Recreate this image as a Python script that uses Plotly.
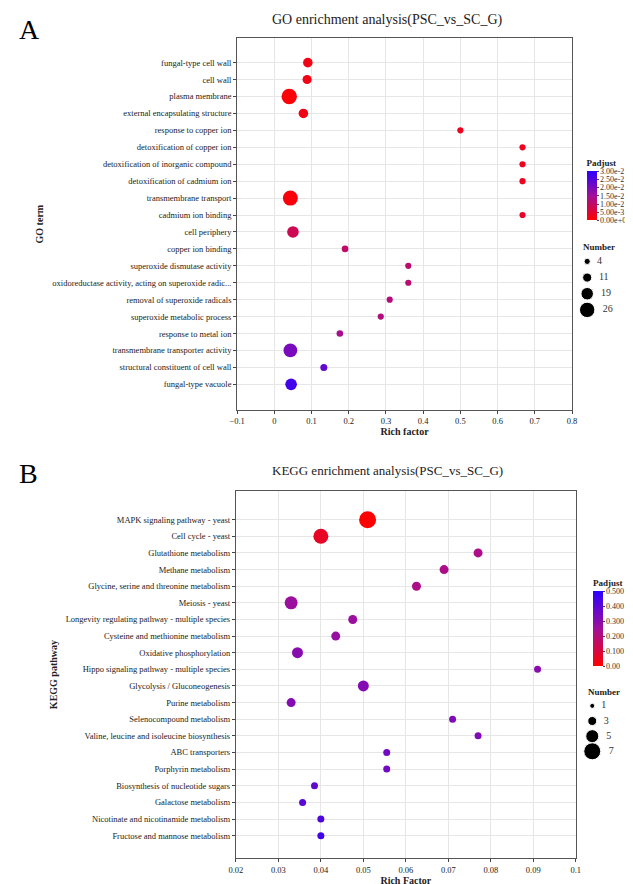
import plotly.graph_objects as go

# ---- GO enrichment data (panel A) ----
go_terms = [
    "fungal-type cell wall", "cell wall", "plasma membrane", "external encapsulating structure",
    "response to copper ion", "detoxification of copper ion", "detoxification of inorganic compound",
    "detoxification of cadmium ion", "transmembrane transport", "cadmium ion binding",
    "cell periphery", "copper ion binding", "superoxide dismutase activity",
    "oxidoreductase activity, acting on superoxide radic...", "removal of superoxide radicals",
    "superoxide metabolic process", "response to metal ion", "transmembrane transporter activity",
    "structural constituent of cell wall", "fungal-type vacuole",
]
go_rich = [0.090, 0.088, 0.040, 0.078, 0.500, 0.667, 0.667, 0.667, 0.043, 0.667,
           0.050, 0.190, 0.360, 0.360, 0.310, 0.286, 0.176, 0.043, 0.133, 0.045]
go_padj = [0.002, 0.002, 0.0005, 0.002, 0.003, 0.003, 0.003, 0.003, 0.001, 0.004,
           0.008, 0.010, 0.011, 0.011, 0.012, 0.012, 0.014, 0.020, 0.023, 0.027]
go_num = [12, 11, 26, 12, 4, 4, 4, 4, 25, 4, 17, 5, 4, 4, 4, 4, 5, 22, 6, 17]

# ---- KEGG enrichment data (panel B) ----
kegg_terms = [
    "MAPK signaling pathway - yeast", "Cell cycle - yeast", "Glutathione metabolism",
    "Methane metabolism", "Glycine, serine and threonine metabolism", "Meiosis - yeast",
    "Longevity regulating pathway - multiple species", "Cysteine and methionine metabolism",
    "Oxidative phosphorylation", "Hippo signaling pathway - multiple species",
    "Glycolysis / Gluconeogenesis", "Purine metabolism", "Selenocompound metabolism",
    "Valine, leucine and isoleucine biosynthesis", "ABC transporters", "Porphyrin metabolism",
    "Biosynthesis of nucleotide sugars", "Galactose metabolism",
    "Nicotinate and nicotinamide metabolism", "Fructose and mannose metabolism",
]
kegg_rich = [0.051, 0.040, 0.077, 0.069, 0.0625, 0.033, 0.0475, 0.0435, 0.0345, 0.091,
             0.050, 0.033, 0.071, 0.077, 0.0555, 0.0555, 0.0385, 0.0357, 0.040, 0.040]
kegg_padj = [0.0, 0.06, 0.22, 0.22, 0.22, 0.26, 0.26, 0.27, 0.30, 0.30,
             0.31, 0.31, 0.32, 0.32, 0.35, 0.35, 0.38, 0.40, 0.42, 0.45]
kegg_num = [7, 6, 3, 3, 3, 5, 3, 3, 4, 2, 4, 3, 2, 2, 2, 2, 2, 2, 2, 2]

go_legend_n = [4, 11, 19, 26]
kegg_legend_n = [1, 3, 5, 7]

FONT = "Liberation Serif"
scale = [[0, "#ff0000"], [0.5, "#a0109a"], [1, "#2a00ff"]]


def go_size(n):
    return 4.5 + 0.42 * n


def kegg_size(n):
    return 3 + 2 * n


fig = go.Figure()

fig.add_trace(go.Scatter(
    x=go_rich, y=go_terms, mode="markers", xaxis="x", yaxis="y",
    marker=dict(size=[go_size(n) for n in go_num], color=go_padj, coloraxis="coloraxis",
                line=dict(width=0), opacity=1),
    showlegend=False))
fig.add_trace(go.Scatter(
    x=kegg_rich, y=kegg_terms, mode="markers", xaxis="x2", yaxis="y2",
    marker=dict(size=[kegg_size(n) for n in kegg_num], color=kegg_padj, coloraxis="coloraxis2",
                line=dict(width=0), opacity=1),
    showlegend=False))

# size legends on hidden little axes
fig.add_trace(go.Scatter(
    x=[3.5] * 4, y=list(range(4)), mode="markers+text", xaxis="x3", yaxis="y3",
    text=["  " + str(n) for n in go_legend_n], textposition="middle right", cliponaxis=False,
    textfont=dict(family=FONT, size=10, color="#333"),
    marker=dict(size=[go_size(n) for n in go_legend_n], color="black", opacity=1),
    showlegend=False, hoverinfo="skip"))
fig.add_trace(go.Scatter(
    x=[3.5] * 4, y=list(range(4)), mode="markers+text", xaxis="x4", yaxis="y4",
    text=["  " + str(n) for n in kegg_legend_n], textposition="middle right", cliponaxis=False,
    textfont=dict(family=FONT, size=10, color="#333"),
    marker=dict(size=[kegg_size(n) for n in kegg_legend_n], color="black", opacity=1),
    showlegend=False, hoverinfo="skip"))

axis_common = dict(showline=True, linecolor="#555", linewidth=1, mirror=True, automargin=False,
                   showgrid=True, gridcolor="#e6e6e6", ticks="outside", ticklen=3,
                   tickfont=dict(family=FONT, size=8.5, color="#222"), zeroline=False)
hidden = dict(visible=False, showgrid=False, zeroline=False, automargin=False)

fig.update_layout(
    width=633, height=884, margin=dict(l=0, r=0, t=0, b=0),
    plot_bgcolor="rgba(0,0,0,0)", paper_bgcolor="white",
    font=dict(family=FONT, color="#222"),
    xaxis=dict(domain=[0.362, 0.891], range=[-0.1, 0.8], dtick=0.1, anchor="y",
               title=dict(text="<b>Rich factor</b>", font=dict(family=FONT, size=10), standoff=2),
               **axis_common),
    yaxis=dict(domain=[0.545, 0.966], autorange="reversed", anchor="x",
               title=dict(text="<b>GO term</b>", font=dict(family=FONT, size=10), standoff=6),
               **axis_common),
    xaxis2=dict(domain=[0.36, 0.897], range=[0.02, 0.1], dtick=0.01, anchor="y2",
                title=dict(text="<b>Rich Factor</b>", font=dict(family=FONT, size=10), standoff=2),
                **axis_common),
    yaxis2=dict(domain=[0.038, 0.454], autorange="reversed", anchor="x2",
                title=dict(text="<b>KEGG pathway</b>", font=dict(family=FONT, size=10), standoff=6),
                **axis_common),
    xaxis3=dict(domain=[0.88, 0.98], range=[0, 10], anchor="y3", **hidden),
    yaxis3=dict(domain=[0.653, 0.717], range=[3.3, -0.2], anchor="x3", **hidden),
    xaxis4=dict(domain=[0.888, 0.988], range=[0, 10], anchor="y4", **hidden),
    yaxis4=dict(domain=[0.154, 0.214], range=[3.3, -0.2], anchor="x4", **hidden),
    coloraxis=dict(colorscale=scale, cmin=0, cmax=0.03,
                   colorbar=dict(x=0.914, xanchor="left", xpad=0, y=0.796, yanchor="middle",
                                 len=64, lenmode="pixels", ypad=0, thickness=10, outlinewidth=0,
                                 title=dict(text="<b>Padjust</b>", font=dict(family=FONT, size=9)),
                                 tickvals=[0, 0.005, 0.01, 0.015, 0.02, 0.025, 0.03],
                                 ticktext=["0.00e+0", "5.00e-3", "1.00e-2", "1.50e-2",
                                           "2.00e-2", "2.50e-2", "3.00e-2"],
                                 ticks="outside", ticklen=2,
                                 tickfont=dict(family=FONT, size=8, color="#333"))),
    coloraxis2=dict(colorscale=scale, cmin=0, cmax=0.5,
                    colorbar=dict(x=0.924, xanchor="left", xpad=0, y=0.306, yanchor="middle",
                                  len=90, lenmode="pixels", ypad=0, thickness=10, outlinewidth=0,
                                  title=dict(text="<b>Padjust</b>", font=dict(family=FONT, size=9)),
                                  tickvals=[0, 0.1, 0.2, 0.3, 0.4, 0.5],
                                  ticktext=["0.00", "0.100", "0.200", "0.300", "0.400", "0.500"],
                                  ticks="outside", ticklen=2,
                                  tickfont=dict(family=FONT, size=8, color="#333"))),
    annotations=[
        dict(text="GO enrichment analysis(PSC_vs_SC_G)", x=0.6, y=0.998, xref="paper", yref="paper",
             showarrow=False, font=dict(family=FONT, size=14), xanchor="center", yanchor="top"),
        dict(text="KEGG enrichment analysis(PSC_vs_SC_G)", x=0.6, y=0.488, xref="paper", yref="paper",
             showarrow=False, font=dict(family=FONT, size=13), xanchor="center", yanchor="top"),
        dict(text="A", x=0.015, y=0.995, xref="paper", yref="paper", showarrow=False,
             font=dict(family=FONT, size=28, color="black"), xanchor="left", yanchor="top"),
        dict(text="B", x=0.015, y=0.493, xref="paper", yref="paper", showarrow=False,
             font=dict(family=FONT, size=28, color="black"), xanchor="left", yanchor="top"),
        dict(text="<b>Number</b>", x=0.905, y=0.722, xref="paper", yref="paper", showarrow=False,
             font=dict(family=FONT, size=9), xanchor="left", yanchor="bottom"),
        dict(text="<b>Number</b>", x=0.913, y=0.218, xref="paper", yref="paper", showarrow=False,
             font=dict(family=FONT, size=9), xanchor="left", yanchor="bottom"),
    ],
)

fig.write_html("out.html")
